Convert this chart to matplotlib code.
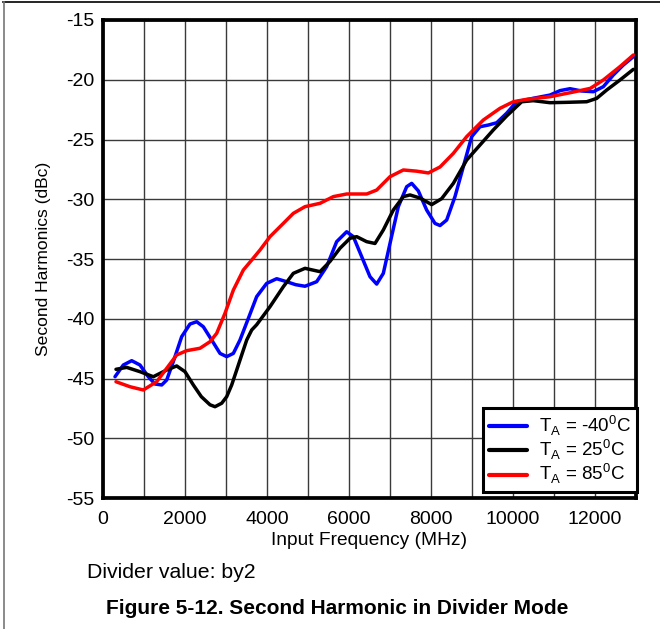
import matplotlib
matplotlib.use("Agg")
import matplotlib.pyplot as plt
from matplotlib.lines import Line2D

plt.rcParams['font.family'] = ['Liberation Sans', 'DejaVu Sans']
plt.rcParams['axes.unicode_minus'] = False

# ---- data ----
freq_m40 = [293, 496, 700, 902, 1105, 1268, 1432, 1553, 1715, 1919, 2122, 2285, 2447,
            2651, 2854, 3017, 3179, 3341, 3545, 3748, 3992, 4236, 4480, 4700, 4927,
            5211, 5455, 5699, 5943, 6106, 6309, 6512, 6675, 6837, 7000, 7203, 7407,
            7529, 7691, 7894, 8097, 8220, 8382, 8585, 8789, 8992, 9195, 9398, 9602,
            9846, 10090, 10496, 10902, 11146, 11390, 11675, 11959, 12203, 12447,
            12691, 12935]
sh_m40 = [-44.85, -43.87, -43.51, -43.87, -44.85, -45.46, -45.54, -45.13, -43.59, -41.5,
          -40.44, -40.25, -40.67, -41.78, -42.9, -43.17, -42.9, -41.78, -39.97, -38.15,
          -37.04, -36.65, -36.9, -37.15, -37.28, -36.9, -35.64, -33.55, -32.72, -33.13,
          -34.8, -36.48, -37.1, -36.2, -33.7, -30.62, -28.95, -28.67, -29.3, -30.9,
          -32.02, -32.2, -31.74, -29.78, -27.27, -24.76, -23.93, -23.79, -23.6, -22.8,
          -21.84, -21.55, -21.28, -20.91, -20.75, -20.94, -21.0, -20.58, -19.6, -18.77,
          -18.07]

freq_25 = [317, 578, 902, 1227, 1553, 1797, 2000, 2203, 2398, 2610, 2732, 2895, 3017,
           3139, 3261, 3383, 3505, 3627, 3748, 4073, 4398, 4642, 4927, 5293, 5537, 5780,
           6024, 6187, 6431, 6634, 6837, 7081, 7325, 7488, 7732, 8017, 8260, 8545, 8870,
           9195, 9520, 9846, 10212, 10496, 10902, 11309, 11797, 12041, 12285, 12610,
           12935]
sh_25 = [-44.23, -44.07, -44.43, -44.85, -44.29, -43.95, -44.43, -45.54, -46.52, -47.2,
         -47.36, -47.07, -46.52, -45.54, -44.29, -43.03, -41.78, -40.94, -40.5, -38.99,
         -37.32, -36.2, -35.78, -36.06, -35.2, -34.1, -33.27, -33.13, -33.55, -33.7,
         -32.57, -30.9, -29.78, -29.64, -29.9, -30.45, -29.95, -28.67, -26.72, -25.46,
         -24.2, -23.03, -21.84, -21.75, -21.92, -21.89, -21.84, -21.56, -20.86, -20.02,
         -19.13]

freq_85 = [317, 659, 983, 1309, 1553, 1797, 2041, 2366, 2610, 2773, 2976, 3179, 3423,
           3600, 3829, 4073, 4398, 4642, 4927, 5293, 5618, 5943, 6431, 6675, 7000, 7325,
           7650, 7935, 8220, 8545, 8870, 9276, 9683, 10008, 10334, 10902, 11471, 11886,
           12203, 12610, 12935]
sh_85 = [-45.27, -45.69, -45.96, -45.27, -44.15, -43.03, -42.67, -42.47, -41.92, -41.22,
         -39.54, -37.6, -35.92, -35.2, -34.25, -33.13, -32.02, -31.18, -30.62, -30.34,
         -29.78, -29.56, -29.56, -29.23, -28.11, -27.55, -27.65, -27.8, -27.3, -26.16,
         -24.76, -23.37, -22.39, -21.84, -21.64, -21.42, -21.03, -20.72, -20.02, -18.9,
         -17.93]

series_labels = [r'T$_\mathregular{A}$ = -40$^\mathregular{0}$C',
                 r'T$_\mathregular{A}$ = 25$^\mathregular{0}$C',
                 r'T$_\mathregular{A}$ = 85$^\mathregular{0}$C']
series_colors = ['#0000ff', '#000000', '#ff0000']

x_ticks = [0, 2000, 4000, 6000, 8000, 10000, 12000]
y_ticks = [-55, -50, -45, -40, -35, -30, -25, -20, -15]

# ---- figure ----
fig = plt.figure(figsize=(6.6, 6.29), dpi=100)
ax = fig.add_axes([103/660, 1-498/629, 533/660, 478/629])

for fx, sy, lab, col in zip([freq_m40, freq_25, freq_85], [sh_m40, sh_25, sh_85],
                            series_labels, series_colors):
    ax.plot(fx, sy, color=col, lw=2.5, label=lab, solid_joinstyle='round',
            solid_capstyle='round', zorder=3)

ax.set_xlim(0, 13000)
ax.set_ylim(-55, -15)
ax.set_xticks(x_ticks)
ax.set_xticks(range(0, 13001, 1000), minor=True)
ax.set_yticks(y_ticks)
ax.grid(True, which='both', axis='x', color='#3a3a3a', lw=1.0)
ax.grid(True, which='major', axis='y', color='#3a3a3a', lw=1.0)
ax.tick_params(which='both', length=0, labelsize=14, colors='black')
ax.tick_params(axis='y', pad=6)
ax.tick_params(axis='x', pad=9)
for s in ax.spines.values():
    s.set_linewidth(2.7)
    s.set_color('black')

ax.set_xlabel('Input Frequency (MHz)', fontsize=13.8, labelpad=3)
ax.set_ylabel('Second Harmonics (dBc)', fontsize=12.6, labelpad=11)

leg = ax.legend(loc='upper right', bbox_to_anchor=(1.002, 0.188), borderaxespad=0,
                fontsize=13.5, frameon=True, fancybox=False,
                handlelength=2.0, handletextpad=0.65, borderpad=0.32, labelspacing=0.0,
                edgecolor='black', framealpha=1)
leg.get_frame().set_linewidth(2.2)
leg.set_zorder(5)
for h in leg.get_lines():
    h.set_linewidth(3)

fig.text(87/660, 1-572/629, 'Divider value: by2', fontsize=15.3, ha='left', va='center')
fig.text(337/660, 1-608/629, 'Figure 5-12. Second Harmonic in Divider Mode',
         fontsize=15, fontweight='bold', ha='center', va='center')

# page border lines
fig.add_artist(Line2D([3/660, 1], [1-1.5/629, 1-1.5/629], color='black', lw=1.2,
                      transform=fig.transFigure))
fig.add_artist(Line2D([3.5/660, 3.5/660], [0, 1-1.5/629], color='#777777', lw=1.2,
                      transform=fig.transFigure))

fig.savefig('out.png', dpi=100)
